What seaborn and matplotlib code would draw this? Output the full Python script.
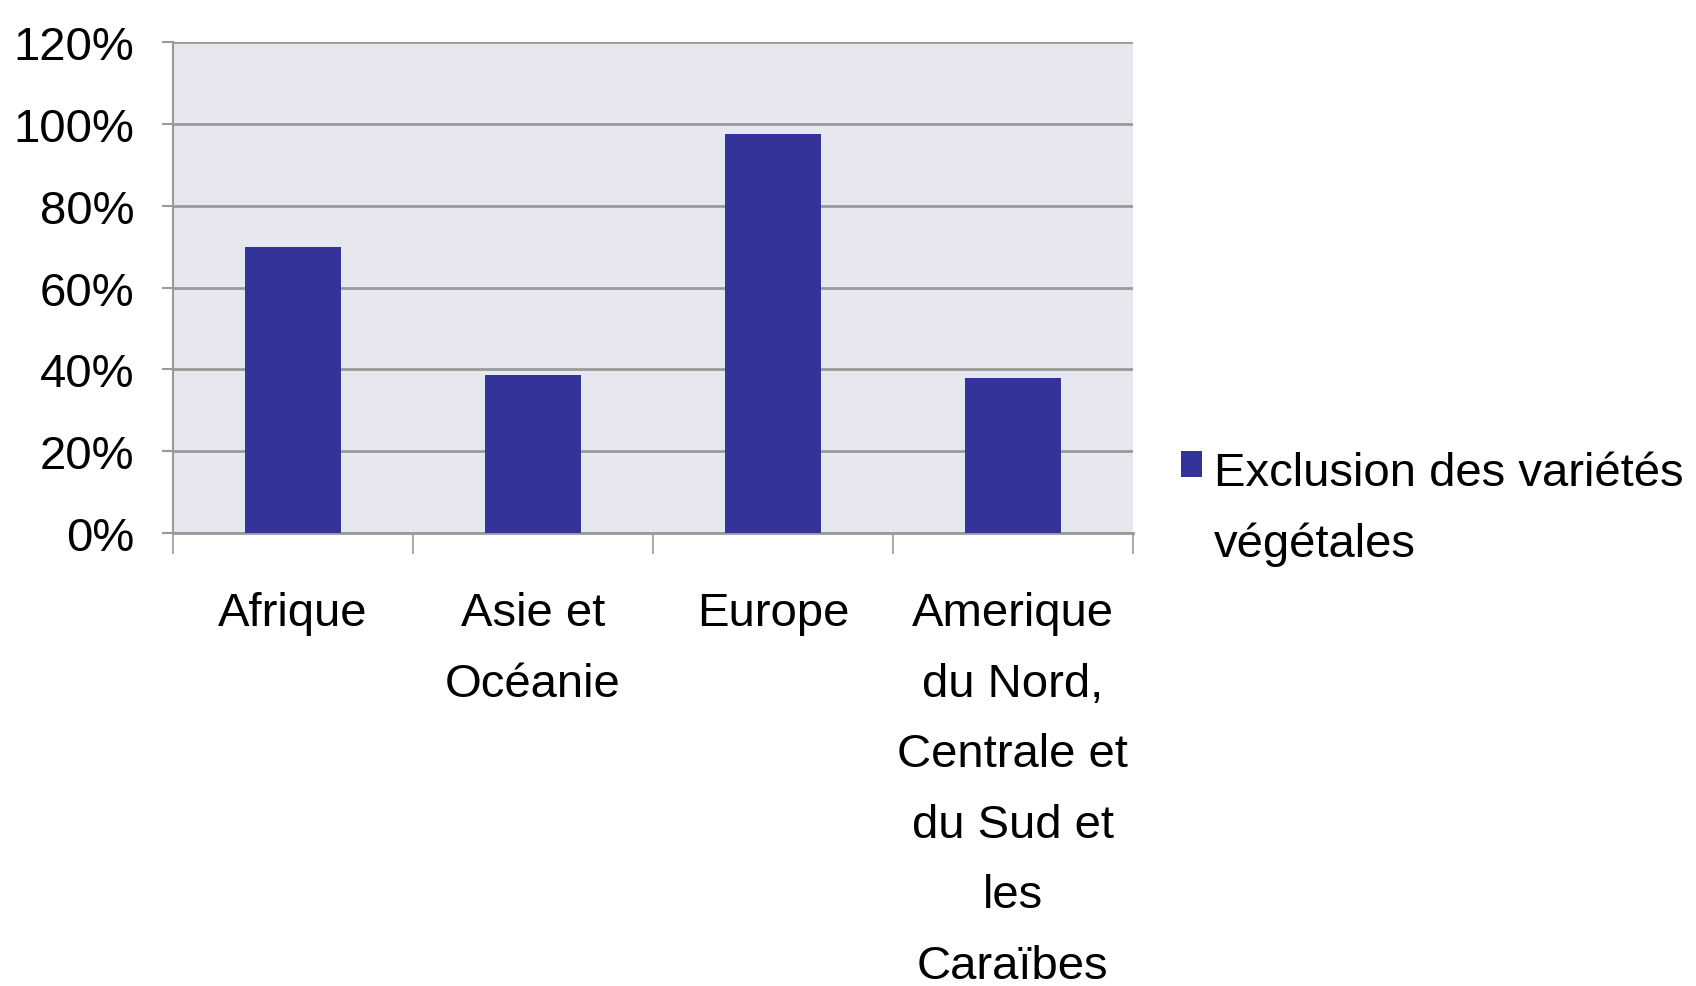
import numpy as np
import pandas as pd
import seaborn as sns
import matplotlib.pyplot as plt
from matplotlib.ticker import PercentFormatter, FixedLocator

# Données
regions = ["Afrique", "Asie et\nOcéanie", "Europe",
           "Amerique\ndu Nord,\nCentrale et\ndu Sud et\nles\nCaraïbes"]
exclusion = [0.70, 0.386, 0.975, 0.378]
serie = "Exclusion des variétés\nvégétales"
y_ticks = [0, 0.2, 0.4, 0.6, 0.8, 1.0, 1.2]

df = pd.DataFrame({"region": regions, "valeur": exclusion})

sns.set_theme(style="white")
plt.rcParams['font.family'] = ['Liberation Sans', 'DejaVu Sans']
plt.rcParams['text.color'] = 'black'
plt.rcParams['xtick.color'] = 'black'
plt.rcParams['ytick.color'] = 'black'

fig = plt.figure(figsize=(16.96, 9.87), dpi=100)
ax = fig.add_axes([0.102, 0.459, 0.566, 0.497])

sns.barplot(data=df, x="region", y="valeur", color="#333399", saturation=1,
            width=0.4, label=serie, ax=ax, zorder=3, linewidth=0)

ax.set_facecolor("#E6E7EF")
ax.set_ylim(0, 1.2)
ax.set_xlim(-0.5, 3.5)
ax.set_yticks(y_ticks)
ax.yaxis.set_major_formatter(PercentFormatter(1.0, decimals=0))
ax.grid(axis="y", color="#9a9a9a", linewidth=2, zorder=1)
ax.set_axisbelow(True)

for side in ["top", "right"]:
    ax.spines[side].set_visible(False)
ax.spines["left"].set_color("#9a9a9a")
ax.spines["left"].set_linewidth(1.5)
ax.spines["bottom"].set_color("#9a9a9a")
ax.spines["bottom"].set_linewidth(2)

# Graduations entre les catégories
ax.xaxis.set_minor_locator(FixedLocator([-0.5, 0.5, 1.5, 2.5, 3.5]))
ax.tick_params(axis="x", which="minor", length=15, width=1.2, color="#9a9a9a",
               direction="out", bottom=True)
ax.tick_params(axis="x", which="major", length=0, pad=42, labelsize=34,
               labelcolor="black")
ax.tick_params(axis="y", length=8, width=1.5, color="#9a9a9a", left=True,
               pad=20, labelsize=34, labelcolor="black")
for lab in ax.get_xticklabels():
    lab.set_linespacing(1.78)
    lab.set_verticalalignment("top")

ax.set_xlabel("")
ax.set_ylabel("")

leg = ax.legend(loc="center left", bbox_to_anchor=(1.05, 0.05), frameon=False,
                fontsize=34, handlelength=0.45, handleheight=0.45,
                handletextpad=0.25, borderpad=0, borderaxespad=0)
for t in leg.get_texts():
    t.set_linespacing(1.75)
    t.set_color("black")
# carré de légende aligné sur la première ligne
for col in leg._legend_handle_box.get_children():
    for item in col.get_children():
        item.align = "top"

fig.savefig("out.png", dpi=100, facecolor="white")
